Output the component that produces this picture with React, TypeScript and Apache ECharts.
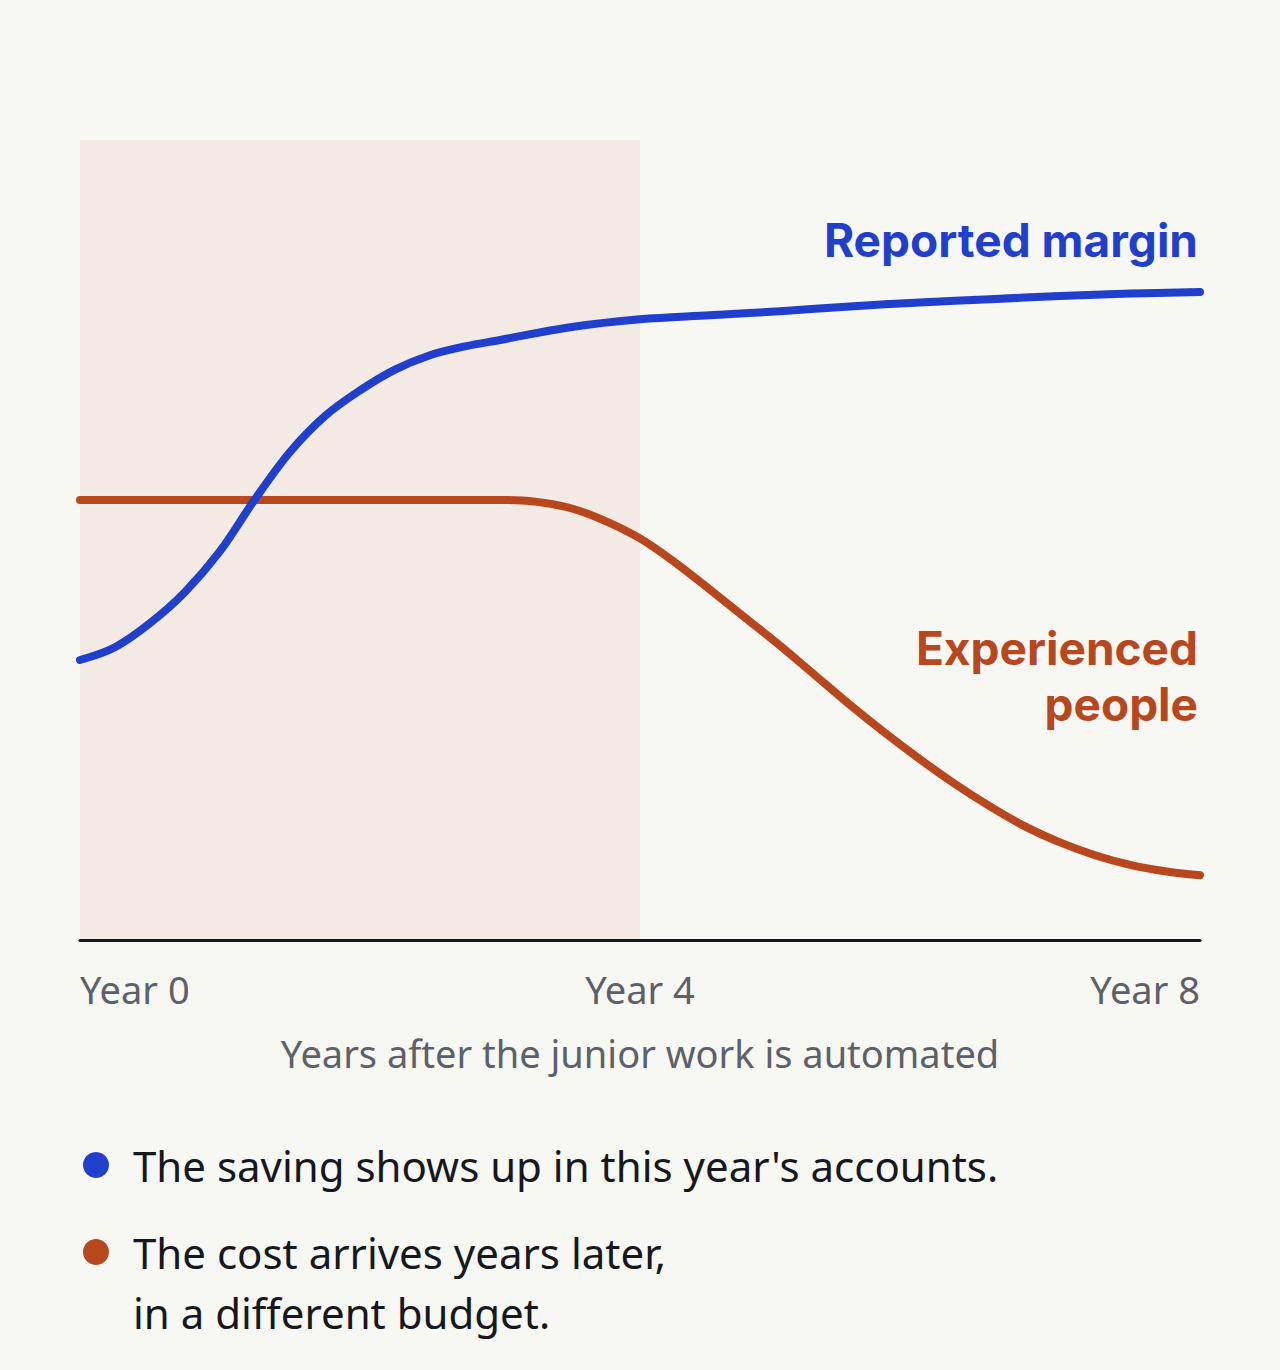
import React, { useEffect, useRef } from "react";
import * as echarts from "echarts";

// years after automation, and the two curves (0-100 index scale)
const marginYears = [0, 0.25, 0.5, 0.75, 1, 1.25, 1.5, 1.75, 2, 2.25, 2.5, 2.75, 3, 3.5, 4, 4.5, 5, 5.5, 6, 6.5, 7, 7.5, 8];
const reportedMargin = [35, 36.6, 39.6, 43.5, 48.6, 55.1, 61, 65.5, 68.7, 71.3, 73.1, 74.2, 75, 76.6, 77.6, 78.1, 78.6, 79.2, 79.7, 80.1, 80.5, 80.8, 81];
const peopleYears = [0, 1, 2, 3, 3.25, 3.5, 3.75, 4, 4.25, 4.5, 4.75, 5, 5.25, 5.5, 5.75, 6, 6.25, 6.5, 6.75, 7, 7.25, 7.5, 7.75, 8];
const experiencedPeople = [55, 55, 55, 55, 54.8, 54, 52.4, 50.2, 47.2, 43.8, 40.3, 36.8, 33.1, 29.4, 25.9, 22.6, 19.5, 16.7, 14.2, 12.2, 10.6, 9.4, 8.6, 8.1];
const shadedYears = [0, 4];

const BLUE = "#1f3fcc";
const RUST = "#b8471e";
const BG = "#f7f7f3";
const LABEL_FONT = "'Noto Sans', sans-serif";
const ANNOT_FONT = "Inter, sans-serif";

const App: React.FC = () => {
  const chartRef = useRef<HTMLDivElement>(null);

  useEffect(() => {
    document.body.style.margin = "0";
    document.body.style.background = BG;
    if (!chartRef.current) return;
    const chart = echarts.init(chartRef.current, null, { renderer: "svg" });

    const option = {
      animation: false,
      backgroundColor: BG,
      grid: { left: 80, right: 80, top: 140, bottom: 430 },
      xAxis: {
        type: "value",
        min: 0,
        max: 8,
        interval: 4,
        name: "Years after the junior work is automated",
        nameLocation: "middle",
        nameGap: 94,
        nameTextStyle: { color: "#5c6069", fontSize: 38, fontFamily: LABEL_FONT },
        axisLine: { show: true, lineStyle: { color: "#15171c", width: 3 } },
        axisTick: { show: false },
        splitLine: { show: false },
        axisLabel: {
          formatter: (v: number) => "Year " + v,
          color: "#5c6069",
          fontSize: 38,
          fontFamily: LABEL_FONT,
          margin: 30,
          alignMinLabel: "left",
          alignMaxLabel: "right",
        },
      },
      yAxis: { type: "value", min: 0, max: 100, show: false, splitLine: { show: false } },
      series: [
        {
          name: "Reported margin",
          type: "line",
          data: marginYears.map((y, i) => [y, reportedMargin[i]]),
          smooth: 0.35,
          showSymbol: false,
          lineStyle: { color: BLUE, width: 8, cap: "round", join: "round" },
          z: 3,
        },
        {
          name: "Experienced people",
          type: "line",
          data: peopleYears.map((y, i) => [y, experiencedPeople[i]]),
          smooth: 0.35,
          showSymbol: false,
          lineStyle: { color: RUST, width: 8, cap: "round", join: "round" },
          z: 2,
          markArea: {
            silent: true,
            itemStyle: { color: "#f3eae4" },
            data: [[{ xAxis: shadedYears[0] }, { xAxis: shadedYears[1] }]],
            z: 0,
          },
        },
      ],
      graphic: [
        {
          type: "text",
          x: 108,
          y: 163,
          style: {
            text: "The damage is\ninvisible here",
            fill: RUST,
            font: `700 46px ${ANNOT_FONT}`,
            lineHeight: 66,
            verticalAlign: "top",
          },
        },
        {
          type: "text",
          x: 1198,
          y: 212,
          style: {
            text: "Reported margin",
            fill: BLUE,
            font: `700 46px ${ANNOT_FONT}`,
            align: "right",
            verticalAlign: "top",
            lineHeight: 56,
          },
        },
        {
          type: "text",
          x: 1198,
          y: 620,
          style: {
            text: "Experienced\npeople",
            fill: RUST,
            font: `700 46px ${ANNOT_FONT}`,
            align: "right",
            verticalAlign: "top",
            lineHeight: 56,
          },
        },
        { type: "circle", shape: { cx: 96, cy: 1165, r: 13 }, style: { fill: BLUE } },
        {
          type: "text",
          x: 133,
          y: 1135,
          style: {
            text: "The saving shows up in this year's accounts.",
            fill: "#16181d",
            font: `400 42px ${LABEL_FONT}`,
            verticalAlign: "top",
            lineHeight: 60,
          },
        },
        { type: "circle", shape: { cx: 96, cy: 1252, r: 13 }, style: { fill: RUST } },
        {
          type: "text",
          x: 133,
          y: 1222,
          style: {
            text: "The cost arrives years later,\nin a different budget.",
            fill: "#16181d",
            font: `400 42px ${LABEL_FONT}`,
            verticalAlign: "top",
            lineHeight: 60,
          },
        },
      ],
    };

    chart.setOption(option);
    return () => {
      chart.dispose();
    };
  }, []);

  return <div ref={chartRef} style={{ width: 1280, height: 1370 }} />;
};

export default App;
